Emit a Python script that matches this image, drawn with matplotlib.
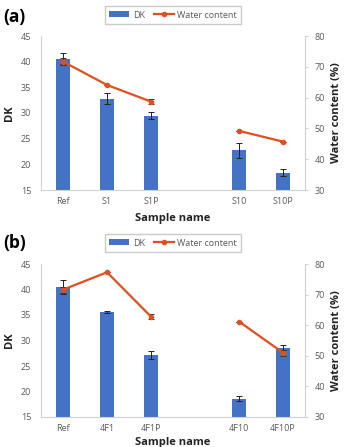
import numpy as np
import matplotlib
matplotlib.use('Agg')
import matplotlib.pyplot as plt

plt.rcParams['font.family'] = ['Open Sans', 'DejaVu Sans']

#data
slots = ['Ref', 'S1', 'S1P', '', 'S10', 'S10P']
slots_b = ['Ref', '4F1', '4F1P', '', '4F10', '4F10P']
used = [0, 1, 2, 4, 5]

dk_a = [40.6, 32.8, 29.5, 22.7, 18.4]
dk_err_a = [1.1, 1.1, 0.7, 1.4, 0.6]
water_a = [71.7, 64.1, 58.7, 49.2, 45.7]
water_err_a = [1.0, 0.0, 0.8, 0.0, 0.0]

dk_b = [40.5, 35.5, 27.2, 18.6, 28.6]
dk_err_b = [1.3, 0.2, 0.8, 0.5, 0.5]
water_b = [71.6, 77.3, 62.8, 61.2, 51.0]
water_err_b = [1.0, 0.0, 0.8, 0.0, 1.0]

blue = '#4472C4'
red = '#E0501E'
grey = '#595959'
spine = '#D0D0D0'

fig = plt.figure(figsize=(3.44, 4.47), dpi=100)


def panel(rect, names, dk, dk_err, water, water_err, tag, leg_y, tag_y, xpad):
    ax = fig.add_axes(rect)
    x = np.arange(len(names))
    xs = x[used]
    ax.bar(xs, dk, width=0.3, color=blue, label='DK', zorder=2)
    ax.errorbar(xs, dk, yerr=dk_err, fmt='none', ecolor='#222222',
                elinewidth=0.7, capsize=2, capthick=0.7, zorder=3)
    ax.set_xlim(-0.5, len(names) - 0.5)
    ax.set_ylim(15, 45)
    ax.set_yticks([15, 20, 25, 30, 35, 40, 45])
    ax.set_xticks(x)
    ax.set_xticklabels(names)
    ax.tick_params(axis='y', length=0, labelsize=6.5, labelcolor=grey, pad=7)
    ax.tick_params(axis='x', length=0, labelsize=6.5, labelcolor=grey, pad=5)
    ax.set_ylabel('DK', fontsize=8, fontweight='bold', color='#222222', labelpad=4)
    ax.set_xlabel('Sample name', fontsize=8, fontweight='bold', color='#222222', labelpad=xpad)
    for s in ['top', 'right']:
        ax.spines[s].set_visible(False)
    ax.spines['left'].set_color(spine)
    ax.spines['bottom'].set_color(spine)

    ax2 = ax.twinx()
    ax2.set_ylim(30, 80)
    ax2.set_yticks([30, 40, 50, 60, 70, 80])
    # line is broken at the empty slot
    for seg in [[0, 1, 2], [3, 4]]:
        ax2.errorbar(xs[seg], np.array(water)[seg], yerr=np.array(water_err)[seg],
                     color=red, lw=1.6, marker='o', ms=3, ecolor='#333333',
                     elinewidth=0.7, capsize=2, capthick=0.7, zorder=4)
    ax2.plot([], [], color=red, lw=1.6, marker='o', ms=3, label='Water content')
    for s in ['top', 'left', 'bottom']:
        ax2.spines[s].set_visible(False)
    ax2.spines['right'].set_color(spine)
    ax2.tick_params(axis='y', length=2, color=spine, labelsize=6.5, labelcolor=grey, pad=5)
    ax2.set_ylabel('Water content (%)', fontsize=8, fontweight='bold', color='#222222', labelpad=4)

    h1, l1 = ax.get_legend_handles_labels()
    h2, l2 = ax2.get_legend_handles_labels()
    fig.legend(h1 + h2, l1 + l2, loc='center', bbox_to_anchor=(0.503, leg_y), ncol=2,
               fontsize=6.5, frameon=True, fancybox=False, edgecolor='#BFBFBF',
               handlelength=2.2, handleheight=0.6, handletextpad=0.4, columnspacing=1.0,
               borderpad=0.45, labelcolor=grey)
    fig.text(0.01, tag_y, tag, fontsize=12.5, fontweight='bold', va='center', ha='left')
    return ax


panel([41 / 344, 1 - 190 / 447, 264 / 344, 154 / 447], slots, dk_a, dk_err_a,
      water_a, water_err_a, '(a)', 1 - 15 / 447, 1 - 17 / 447, 5)
panel([41 / 344, 1 - 417 / 447, 264 / 344, 153 / 447], slots_b, dk_b, dk_err_b,
      water_b, water_err_b, '(b)', 1 - 243 / 447, 1 - 243 / 447, 3)

fig.savefig('out.png', dpi=100)
